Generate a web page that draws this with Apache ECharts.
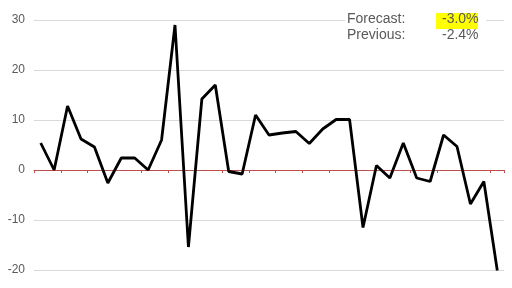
<!DOCTYPE html>
<html><head><meta charset="utf-8">
<script src="https://cdn.jsdelivr.net/npm/echarts@6/dist/echarts.min.js"></script>
<style>html,body{margin:0;padding:0;background:#fff}#c{width:512px;height:288px}</style>
</head><body><div id="c"></div>
<script>
const categories = Array.from({length: 35}, (_, i) => String(i + 1));
const values = [5.4, 0, 12.8, 6.2, 4.6, -2.6, 2.4, 2.4, 0, 6, 29, -15.4, 14.2, 17, -0.3, -0.8, 11, 7, 7.4, 7.7, 5.3, 8.2, 10.1, 10.1, -11.5, 0.9, -1.6, 5.4, -1.6, -2.3, 7, 4.7, -6.8, -2.3, -20.1];
const yTicks = [-20, -10, 0, 10, 20, 30];
const infoLabels = ['Actual:', 'Forecast:', 'Previous:'];
const infoValues = ['-20.1%', '-3.0%', '-2.4%'];

const chart = echarts.init(document.getElementById('c'));
const font = 'Liberation Sans, Arial, sans-serif';
chart.setOption({
  animation: false,
  grid: {left: 34, right: 8, top: 20, bottom: 18},
  xAxis: {
    type: 'category', data: categories, boundaryGap: true,
    axisLine: {onZero: true, lineStyle: {color: '#c0504d', width: 1}},
    axisTick: {show: true, interval: 1, length: 3, lineStyle: {color: '#c0504d'}},
    axisLabel: {show: false}
  },
  yAxis: {
    type: 'value', min: yTicks[0], max: yTicks[yTicks.length - 1], interval: 10,
    axisLine: {show: false}, axisTick: {show: false},
    axisLabel: {color: '#595959', fontSize: 12, fontFamily: font, margin: 9},
    splitLine: {lineStyle: {color: '#d9d9d9', width: 1}}
  },
  series: [{
    type: 'line', data: values, symbol: 'none', z: 3,
    lineStyle: {color: '#000', width: 2.8}
  }],
  graphic: [
    {type: 'rect', shape: {x: 345, y: 0, width: 141, height: 44}, style: {fill: '#fff'}, z: 10},
    {type: 'rect', shape: {x: 436, y: 13, width: 42, height: 16}, style: {fill: '#ffff00'}, z: 11},
    {type: 'text', left: 347, top: -14, z: 12, style: {text: infoLabels[0], fill: '#595959', font: '14px ' + font}},
    {type: 'text', left: 442, top: -14, z: 12, style: {text: infoValues[0], fill: '#f4a582', font: '14px ' + font}},
    {type: 'text', left: 347, top: 12, z: 12, style: {text: infoLabels[1], fill: '#595959', font: '14px ' + font}},
    {type: 'text', left: 442, top: 12, z: 12, style: {text: infoValues[1], fill: '#595959', font: '14px ' + font}},
    {type: 'text', left: 347, top: 28, z: 12, style: {text: infoLabels[2], fill: '#595959', font: '14px ' + font}},
    {type: 'text', left: 442, top: 28, z: 12, style: {text: infoValues[2], fill: '#595959', font: '14px ' + font}}
  ]
});
</script></body></html>
